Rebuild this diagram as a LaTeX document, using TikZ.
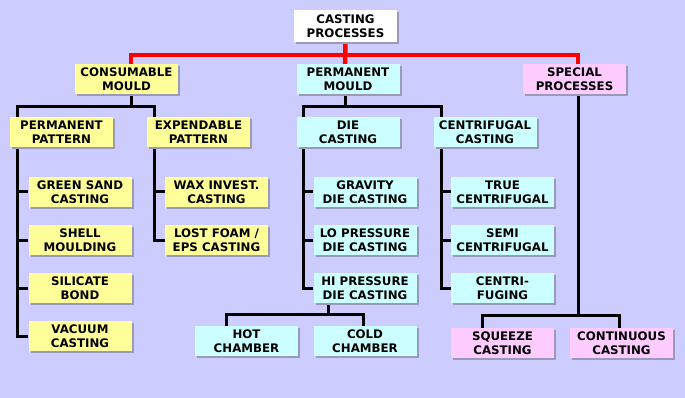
\documentclass[tikz,border=0pt]{standalone}
\usepackage{fontspec}
\setmainfont{DejaVu Sans}
\usetikzlibrary{shadows}
\pgfdeclarelayer{back}
\pgfdeclarelayer{bg}
\pgfsetlayers{back,bg,main}
\definecolor{bgc}{HTML}{CCCCFF}
\definecolor{yel}{HTML}{FFFF99}
\definecolor{cya}{HTML}{CCFFFF}
\definecolor{pnk}{HTML}{FFCCFF}
\definecolor{shd}{HTML}{9A9AB8}
\definecolor{redl}{HTML}{FF0000}
\tikzset{
  box/.style={minimum width=103pt, minimum height=30pt, inner sep=0pt, align=center,
    font=\bfseries\fontsize{11.8}{14}\selectfont,
    drop shadow={shadow xshift=2pt, shadow yshift=-2pt, fill=shd, opacity=1}},
  ybox/.style={box, fill=yel},
  cbox/.style={box, fill=cya},
  pbox/.style={box, fill=pnk},
  wbox/.style={box, fill=white, minimum height=32pt},
  redline/.style={draw=redl, line width=4.5pt},
  blk/.style={draw=black, line width=3pt}
}
\begin{document}
\begin{tikzpicture}[x=1pt,y=-1pt]
\begin{pgfonlayer}{back}
\fill[bgc] (0,0) rectangle (685,398);
\end{pgfonlayer}
\useasboundingbox (0,0) rectangle (685,398);
% nodes
\node[wbox] (cp) at (345.5,26) {CASTING\\PROCESSES};
\node[ybox] (cm) at (126.5,79) {CONSUMABLE\\MOULD};
\node[cbox] (pm) at (348,79) {PERMANENT\\MOULD};
\node[pbox] (sp) at (574.5,79) {SPECIAL\\PROCESSES};
\node[ybox] (pp) at (61.5,132) {PERMANENT\\PATTERN};
\node[ybox] (ep) at (198.5,132) {EXPENDABLE\\PATTERN};
\node[cbox] (dc) at (348,132) {DIE\\CASTING};
\node[cbox] (cc) at (485,132) {CENTRIFUGAL\\CASTING};
\node[ybox] (gs) at (80,192) {GREEN SAND\\CASTING};
\node[ybox] (sm) at (80,240) {SHELL\\MOULDING};
\node[ybox] (sb) at (80,288) {SILICATE\\BOND};
\node[ybox] (vc) at (80,336) {VACUUM\\CASTING};
\node[ybox] (wi) at (216.5,192) {WAX INVEST.\\CASTING};
\node[ybox] (lf) at (216.5,240) {LOST FOAM /\\EPS CASTING};
\node[cbox] (gd) at (365,192) {GRAVITY\\DIE CASTING};
\node[cbox] (ld) at (365,240) {LO PRESSURE\\DIE CASTING};
\node[cbox] (hd) at (365,288) {HI PRESSURE\\DIE CASTING};
\node[cbox] (hc) at (246.5,341) {HOT\\CHAMBER};
\node[cbox] (kc) at (365,341) {COLD\\CHAMBER};
\node[cbox] (tc) at (502.5,192) {TRUE\\CENTRIFUGAL};
\node[cbox] (sc) at (502.5,240) {SEMI\\CENTRIFUGAL};
\node[cbox] (cf) at (502.5,288) {CENTRI-\\FUGING};
\node[pbox] (sq) at (502.5,343) {SQUEEZE\\CASTING};
\node[pbox] (cn) at (621.5,343) {CONTINUOUS\\CASTING};
% bus coordinates
\coordinate (rb) at (345,55);
\coordinate (b1) at (131,107);
\coordinate (b1l) at (17,107);
\coordinate (b1r) at (154,107);
\coordinate (b2) at (345,107);
\coordinate (b2l) at (303,107);
\coordinate (b2r) at (441,107);
\coordinate (b3) at (328,314);
\coordinate (b4) at (578,315);
\begin{pgfonlayer}{bg}
\draw[redline] ([xshift=4.5pt]cm.north) |- (rb) -| ([xshift=3.5pt]sp.north);
\draw[redline] (cp.south) -- ([xshift=-3pt]pm.north);
% consumable
\draw[blk] ([xshift=4.5pt]cm.south) -- (b1);
\draw[blk] (vc.west) -| (b1l) -- (b1r) |- (lf.west);
\draw[blk] (b1l |- gs.west) -- (gs.west);
\draw[blk] (b1l |- sm.west) -- (sm.west);
\draw[blk] (b1l |- sb.west) -- (sb.west);
\draw[blk] (b1r |- wi.west) -- (wi.west);
% permanent
\draw[blk] ([xshift=-3pt]pm.south) -- (b2);
\draw[blk] (hd.west) -| (b2l) -- (b2r) |- (cf.west);
\draw[blk] (b2l |- gd.west) -- (gd.west);
\draw[blk] (b2l |- ld.west) -- (ld.west);
\draw[blk] (b2r |- tc.west) -- (tc.west);
\draw[blk] (b2r |- sc.west) -- (sc.west);
% hi pressure
\draw[blk] ([xshift=-37pt]hd.south) -- (b3);
\draw[blk] ([xshift=-20.5pt]hc.north) |- (b3) -| ([xshift=-2pt]kc.north);
% special
\draw[blk] ([xshift=3.5pt]sp.south) -- (b4);
\draw[blk] ([xshift=-20.5pt]sq.north) |- (b4) -| ([xshift=-2.5pt]cn.north);
\end{pgfonlayer}
\end{tikzpicture}
\end{document}
